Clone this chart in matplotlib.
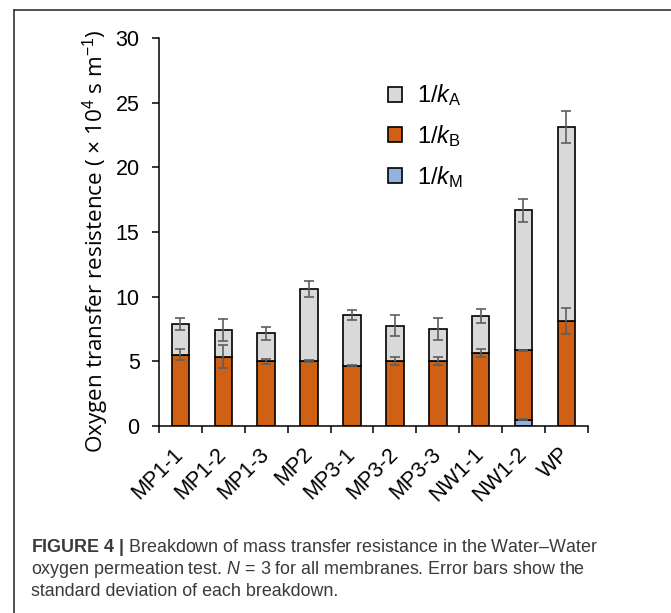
import matplotlib.pyplot as plt
import numpy as np

plt.rcParams['mathtext.fontset'] = 'custom'
plt.rcParams['mathtext.rm'] = 'Liberation Sans'
plt.rcParams['mathtext.it'] = 'Liberation Sans:italic'
plt.rcParams['mathtext.bf'] = 'Liberation Sans:bold'

# membranes and resistance breakdown (x 10^4 s/m)
membranes = ['MP1-1', 'MP1-2', 'MP1-3', 'MP2', 'MP3-1', 'MP3-2', 'MP3-3', 'NW1-1', 'NW1-2', 'WP']
res_M = [0, 0, 0, 0, 0, 0, 0, 0, 0.49, 0]
res_B = [5.53, 5.35, 5.01, 5.04, 4.68, 5.01, 5.01, 5.63, 5.35, 8.12]
res_A = [2.36, 2.08, 2.16, 5.56, 3.90, 2.75, 2.49, 2.85, 10.84, 15.01]
err_M = [0, 0, 0, 0, 0, 0, 0, 0, 0.05, 0]
err_B = [0.45, 0.88, 0.18, 0.08, 0.05, 0.30, 0.30, 0.30, 0.07, 1.00]
err_A = [0.50, 0.85, 0.50, 0.62, 0.42, 0.82, 0.85, 0.55, 0.90, 1.26]

col_A = '#D9D9D9'
col_B = '#D06013'
col_M = '#95B1E0'
err_col = '#5E5E5E'

fig = plt.figure(figsize=(6.71, 6.13), dpi=100)
ax = fig.add_axes([0.237, 0.305, 0.639, 0.633])

x = np.arange(len(membranes))
M = np.array(res_M)
B = np.array(res_B)
A = np.array(res_A)
w = 0.41
kw = dict(width=w, edgecolor='black', linewidth=1.2, zorder=2)
ax.bar(x, M, color=col_M, label='1/$k_\\mathrm{M}$', **kw)
ax.bar(x, B, bottom=M, color=col_B, label='1/$k_\\mathrm{B}$', **kw)
ax.bar(x, A, bottom=M + B, color=col_A, label='1/$k_\\mathrm{A}$', **kw)

ekw = dict(fmt='none', ecolor=err_col, elinewidth=1.2, capsize=3.5, capthick=1.2, zorder=3)
for tops, errs in [(M, err_M), (M + B, err_B), (M + B + A, err_A)]:
    for i in range(len(x)):
        if errs[i] > 0:
            ax.errorbar(x[i], tops[i], yerr=errs[i], **ekw)

ax.set_xlim(-0.5, len(membranes) - 0.5)
ax.set_ylim(0, 30)
ax.set_yticks(range(0, 31, 5))
ax.spines['top'].set_visible(False)
ax.spines['right'].set_visible(False)
ax.spines['left'].set_linewidth(1.1)
ax.spines['bottom'].set_linewidth(1.1)
ax.tick_params(axis='y', direction='out', length=5, width=1.1, labelsize=15.5, pad=9)
ax.set_xticks(x)
ax.set_xticklabels(membranes, rotation=45, ha='right', va='center', rotation_mode='anchor', fontsize=15.5)
ax.tick_params(axis='x', which='major', length=0, pad=18)
ax.set_xticks(np.arange(-0.5, len(membranes), 1), minor=True)
ax.tick_params(axis='x', which='minor', direction='out', length=5, width=1.1)
for lab in ax.get_xticklabels() + ax.get_yticklabels():
    lab.set_fontfamily('Liberation Sans')

ax.set_ylabel('Oxygen transfer resistence ( $\\times$ 10$^{4}$ s m$^{-1}$)',
              fontsize=16.2, family='Open Sans')
ax.yaxis.set_label_coords(-0.112, 0.476)

handles, labels = ax.get_legend_handles_labels()
ax.legend(handles[::-1], labels[::-1], loc='upper left', bbox_to_anchor=(0.485, 0.94),
          frameon=False, handlelength=0.6, handleheight=0.6,
          handletextpad=0.6, labelspacing=0.62, prop={'family': 'Liberation Sans', 'size': 17})

# frame lines of the cropped figure panel
fig.add_artist(plt.Line2D([14 / 671, 1], [1 - 10 / 613, 1 - 10 / 613], color='#333333', lw=1.2))
fig.add_artist(plt.Line2D([14 / 671, 14 / 671], [0, 1 - 10 / 613], color='#333333', lw=1.2))

cap_kw = dict(fontsize=12.9, family='Liberation Sans', color='#3a3a3a', va='center', ha='left')
fig.text(31 / 671, 1 - 548 / 613, '$\\mathbf{FIGURE\\ 4\\ |}$ Breakdown of mass transfer resistance in the Water\u2013Water', **cap_kw)
fig.text(31 / 671, 1 - 570 / 613, 'oxygen permeation test. $\\mathit{N}$ = 3 for all membranes. Error bars show the', **cap_kw)
fig.text(31 / 671, 1 - 592 / 613, 'standard deviation of each breakdown.', **cap_kw)

fig.savefig('out.png', dpi=100)
